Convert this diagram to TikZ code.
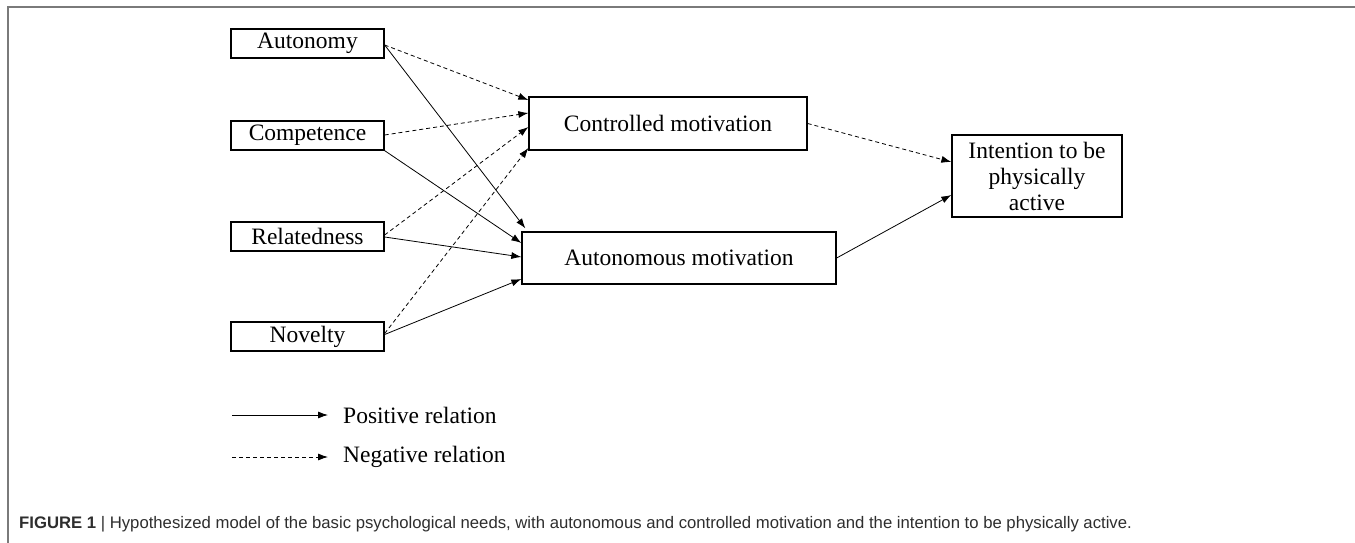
\documentclass[tikz,border=0pt]{standalone}
\usepackage{fontspec}
\usetikzlibrary{arrows.meta,calc}
\newfontfamily\diagserif{Liberation Serif}
\newfontfamily\capsans{Liberation Sans}
\newcommand{\boxfont}{\diagserif\fontsize{23.5}{26}\selectfont}
\definecolor{framegray}{HTML}{7A7A7A}
\definecolor{captext}{HTML}{2E2E2E}
\tikzset{
  needbox/.style={draw, line width=1.3pt, inner sep=0pt, minimum width=153pt, minimum height=29pt, font=\boxfont},
  bigbox/.style={draw, line width=1.3pt, inner sep=0pt, font=\boxfont},
  posarrow/.style={-{Latex[length=10pt,width=7pt]}, line width=0.8pt},
  negarrow/.style={posarrow, dash pattern=on 4pt off 3pt},
  legtext/.style={anchor=west, inner sep=0pt, font=\boxfont},
}
\begin{document}
\begin{tikzpicture}[x=1pt,y=-1pt]
\useasboundingbox (0,0) rectangle (1355,543);
\fill[white] (0,0) rectangle (1355,543);
\draw[framegray, line width=2pt] (8,543) -- (8,7) -- (1355,7);

\node[needbox] (aut) at (307.5,43.5) {Autonomy};
\node[needbox] (com) at (307.5,135.5) {Competence};
\node[needbox] (rel) at (307.5,236.5) {Relatedness};
\node[needbox] (nov) at (307.5,336.5) {Novelty};

\node[bigbox, minimum width=278pt, minimum height=53pt] (ctrl) at (668,123.5) {Controlled motivation};
\node[bigbox, minimum width=314pt, minimum height=52pt] (auto) at (679,258) {Autonomous motivation};
\node[bigbox, minimum width=170pt, minimum height=82pt, align=center] (int) at (1037,176) {Intention to be\\physically\\active};

% dashed (negative) to controlled motivation
\draw[negarrow] ([yshift=-1.5pt]aut.east) -- ([yshift=23.5pt]ctrl.west);
\draw[negarrow] ([yshift=0.5pt]com.east) -- ([yshift=10.5pt]ctrl.west);
\draw[negarrow] ([yshift=1.5pt]rel.east) -- ([yshift=-3.5pt]ctrl.west);
\draw[negarrow] ([yshift=3pt]nov.east) -- ([yshift=-24.5pt]ctrl.west);

% solid (positive) to autonomous motivation
\draw[posarrow] ([yshift=-1.5pt]aut.east) -- ([xshift=4pt,yshift=3pt]auto.north west);
\draw[posarrow] (com.south east) -- ([yshift=15pt]auto.west);
\draw[posarrow] ([yshift=-0.5pt]rel.east) -- ([yshift=1pt]auto.west);
\draw[posarrow] ([yshift=2pt]nov.east) -- ([yshift=-21pt]auto.west);

% to intention
\draw[negarrow] (ctrl.east) -- ([yshift=14pt]int.west);
\draw[posarrow] (auto.east) -- ([yshift=-19pt]int.west);

% legend
\coordinate (lp1) at (232,415);
\coordinate (lp2) at (328,415);
\coordinate (ln1) at (232,457);
\coordinate (ln2) at (328,457);
\draw[posarrow] (lp1) -- (lp2);
\draw[negarrow] (ln1) -- (ln2);
\node[legtext] (lpt) at (343,415) {Positive relation};
\node[legtext] (lnt) at (343,457) {Negative relation};

% caption
\node[anchor=west, inner sep=0pt, text=captext, font=\capsans\fontsize{16.7}{19}\selectfont] (cap) at (19,524)
  {\textbf{FIGURE 1} | Hypothesized model of the basic psychological needs, with autonomous and controlled motivation and the intention to be physically active.};
\end{tikzpicture}
\end{document}
